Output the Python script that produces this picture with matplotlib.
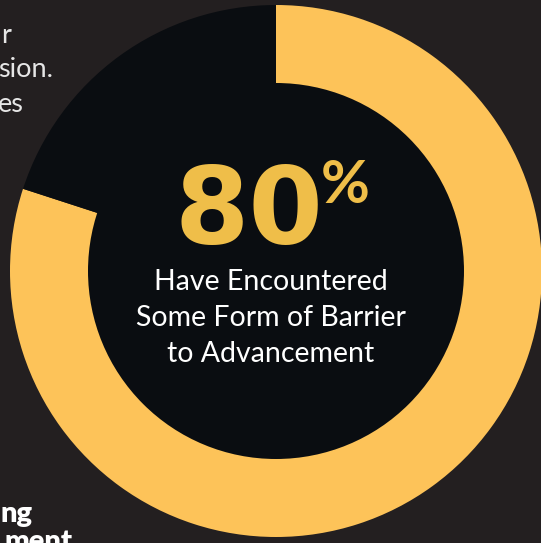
import matplotlib.pyplot as plt
from matplotlib.patches import Circle

W, H = 541, 543

# data
shares = [80, 20]
share_labels = ['Encountered barrier', 'Other']
big_number = '80'
subtitle = ['Have Encountered', 'Some Form of Barrier', 'to Advancement']
left_fragments = ['r', 'sion.', 'es']
bottom_fragments = ['ng', 'ment']

bg = '#231f20'
dark = '#0a0d11'
yellow = '#fdc359'
gold = '#efbe49'

fig = plt.figure(figsize=(W / 100, H / 100), dpi=100, facecolor=bg)
ax = fig.add_axes([0, 0, 1, 1])
ax.set_facecolor(bg)

cx, cy = 276, H - 271
ax.pie(shares, colors=[yellow, dark], startangle=90, counterclock=False,
       radius=266, center=(cx, cy), wedgeprops=dict(linewidth=0))
ax.add_patch(Circle((cx, cy), 188, color=dark, lw=0, zorder=3))

ax.set_xlim(0, W)
ax.set_ylim(0, H)
ax.set_aspect('equal')
ax.axis('off')

# big number
ax.text(249, H - 243, big_number, color=gold, fontsize=77, fontweight='bold',
        family='DejaVu Sans', ha='center', va='baseline', zorder=5)
ax.text(321, H - 203, '%', color=gold, fontsize=43, fontweight='bold',
        family='Lato', ha='left', va='baseline', zorder=5)

# subtitle
for i, line in enumerate(subtitle):
    ax.text(271, H - (290 + 36 * i), line, color='white', fontsize=20.5,
            fontweight='normal', family='Lato', ha='center', va='baseline', zorder=5)

# cut-off text on the left
for frag, xr, yb in zip(left_fragments, [11, 53, 24], [43, 77, 112]):
    ax.text(xr, H - yb, frag, color='#e6e6e6', fontsize=19.5, family='Lato',
            ha='right', va='baseline')

for frag, xr, yb in zip(bottom_fragments, [33, 73], [522, 550]):
    ax.text(xr, H - yb, frag, color='white', fontsize=21, fontweight='heavy',
            family='Lato', ha='right', va='baseline')

fig.savefig('out.png', dpi=100, facecolor=bg)
